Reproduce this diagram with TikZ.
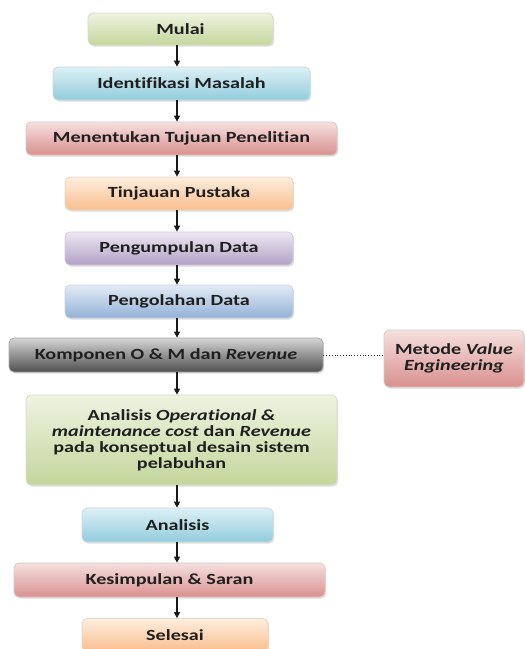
\documentclass[tikz,border=0pt]{standalone}
\usepackage{fontspec}
\setmainfont{Carlito}[FakeStretch=1.3, Ligatures=NoCommon]
\usetikzlibrary{arrows.meta,shadows}

\definecolor{grnTop}{HTML}{EEF3E0}
\definecolor{grnBot}{HTML}{C4D69C}
\definecolor{bluTop}{HTML}{DDF0F6}
\definecolor{bluBot}{HTML}{92CCDC}
\definecolor{redTop}{HTML}{F5E0DF}
\definecolor{redBot}{HTML}{D9908E}
\definecolor{orgTop}{HTML}{FEEEDF}
\definecolor{orgBot}{HTML}{F9BE8C}
\definecolor{purTop}{HTML}{EDE8F2}
\definecolor{purBot}{HTML}{B2A1C6}
\definecolor{sblTop}{HTML}{E3EBF5}
\definecolor{sblBot}{HTML}{93B1D6}
\definecolor{gryTop}{HTML}{D6D6D6}
\definecolor{gryBot}{HTML}{4F4F4F}

\tikzset{every picture/.style={line width=0.75pt}}
\tikzset{
  box/.style={rounded corners=5pt, inner sep=0pt, align=center,
    font=\fontsize{15.5}{16}\selectfont\bfseries, text=black!88,
    drop shadow={opacity=0.25, shadow xshift=1.2pt, shadow yshift=-1.5pt}},
  grnbox/.style={box, top color=grnTop, bottom color=grnBot, draw=grnBot!80!black!40!white},
  blubox/.style={box, top color=bluTop, bottom color=bluBot, draw=bluBot!80!black!40!white},
  redbox/.style={box, top color=redTop, bottom color=redBot, draw=redBot!80!black!40!white},
  orgbox/.style={box, top color=orgTop, bottom color=orgBot, draw=orgBot!80!black!40!white},
  purbox/.style={box, top color=purTop, bottom color=purBot, draw=purBot!80!black!40!white},
  sblbox/.style={box, top color=sblTop, bottom color=sblBot, draw=sblBot!80!black!40!white},
  grybox/.style={box, top color=gryTop, bottom color=gryBot, draw=gray!70},
  flow/.style={-{Triangle[length=6pt,width=6pt]}, line width=1.1pt, black!90},
}

\begin{document}
\begin{tikzpicture}[x=1pt,y=1pt,yscale=-1,xscale=1]
\useasboundingbox (0,0) rectangle (526,649);

%Axis of the arrows
\coordinate (axis) at (177,0);

%Boxes
\node [grnbox, minimum width=185, minimum height=32] (mulai) at (180.5,29) {Mulai};
\node [blubox, minimum width=257, minimum height=33] (ident) at (181.5,83.5) {Identifikasi Masalah};
\node [redbox, minimum width=311, minimum height=33] (tujuan) at (181.5,138.5) {Menentukan Tujuan Penelitian};
\node [orgbox, minimum width=228, minimum height=33] (pustaka) at (179,193.5) {Tinjauan Pustaka};
\node [purbox, minimum width=228, minimum height=33] (kumpul) at (179,248.5) {Pengumpulan Data};
\node [sblbox, minimum width=228, minimum height=33] (olah) at (179,301.5) {Pengolahan Data};
\node [grybox, minimum width=314, minimum height=34] (komponen) at (166,355) {Komponen O \& M dan \textit{Revenue}};
\node [redbox, minimum width=140, minimum height=57] (metode) at (454,358.5) {Metode \textit{Value}\\\textit{Engineering}};
\node [grnbox, minimum width=311, minimum height=90] (biaya) at (181.5,440) {Analisis \textit{Operational \&}\\\textit{maintenance cost} dan \textit{Revenue}\\pada konseptual desain sistem\\pelabuhan};
\node [blubox, minimum width=191, minimum height=34] (analisis) at (177.5,525) {Analisis};
\node [redbox, minimum width=311, minimum height=34] (simpul) at (169.5,580) {Kesimpulan \& Saran};
\node [orgbox, minimum width=186, minimum height=33] (selesai) at (175,635) {Selesai};

%Arrows
\draw [flow] (mulai.south -| axis) -- (ident.north -| axis);
\draw [flow] (ident.south -| axis) -- (tujuan.north -| axis);
\draw [flow] (tujuan.south -| axis) -- (pustaka.north -| axis);
\draw [flow] (pustaka.south -| axis) -- (kumpul.north -| axis);
\draw [flow] (kumpul.south -| axis) -- (olah.north -| axis);
\draw [flow] (olah.south -| axis) -- (komponen.north -| axis);
\draw [flow] (komponen.south -| axis) -- (biaya.north -| axis);
\draw [flow] (biaya.south -| axis) -- (analisis.north -| axis);
\draw [flow] (analisis.south -| axis) -- (simpul.north -| axis);
\draw [flow] (simpul.south -| axis) -- (selesai.north -| axis);

%Dotted link
\draw [dotted, line width=0.8pt, black!80] (komponen.east) -- (komponen.east -| metode.west);

\end{tikzpicture}
\end{document}
